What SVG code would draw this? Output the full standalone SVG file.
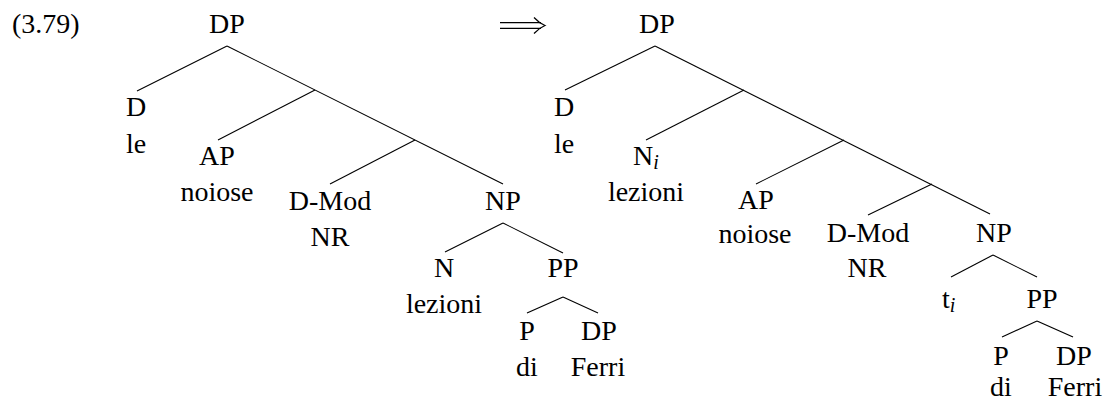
<svg xmlns="http://www.w3.org/2000/svg" width="1104" height="400" viewBox="0 0 1104 400">
<rect width="1104" height="400" fill="#fff"/>
<text x="12" y="33" style="font-family:'Liberation Serif';font-size:28px">(3.79)</text>
<g id="arrow" fill="none" stroke="#000" stroke-width="1.2">
<line x1="500" y1="22.7" x2="541" y2="22.7"/>
<line x1="500" y1="28.3" x2="541" y2="28.3"/>
<path d="M534,17.5 Q539,23 545,25.5 Q539,28 534,33.5"/>
</g>
<g id="connectors" stroke="#000" stroke-width="1.1">
<line x1="227" y1="46" x2="137" y2="91"/>
<line x1="227" y1="46" x2="503" y2="184"/>
<line x1="315" y1="90" x2="218" y2="140"/>
<line x1="415" y1="140" x2="330" y2="184"/>
<line x1="503" y1="223" x2="445" y2="252"/>
<line x1="503" y1="223" x2="563" y2="253"/>
<line x1="563" y1="297" x2="527" y2="313"/>
<line x1="563" y1="297" x2="598" y2="313"/>
<line x1="655" y1="46" x2="565" y2="90"/>
<line x1="655" y1="46" x2="990" y2="214"/>
<line x1="744" y1="90" x2="646" y2="140"/>
<line x1="844" y1="140" x2="756" y2="184"/>
<line x1="932" y1="184" x2="868" y2="215"/>
<line x1="993" y1="255" x2="951" y2="277"/>
<line x1="993" y1="255" x2="1037" y2="277"/>
<line x1="1037" y1="321" x2="1002" y2="337"/>
<line x1="1037" y1="321" x2="1073" y2="337"/>
</g>
<g id="L-DP"><text x="227" y="33" style="font-family:'Liberation Serif';font-size:28px;text-anchor:middle">DP</text></g>
<g id="L-D"><text x="136" y="116" style="font-family:'Liberation Serif';font-size:28px;text-anchor:middle">D</text><text x="136" y="153" style="font-family:'Liberation Serif';font-size:28px;text-anchor:middle">le</text></g>
<g id="L-AP"><text x="217" y="165" style="font-family:'Liberation Serif';font-size:28px;text-anchor:middle">AP</text><text x="217" y="201" style="font-family:'Liberation Serif';font-size:28px;text-anchor:middle">noiose</text></g>
<g id="L-DMod"><text x="330" y="210" style="font-family:'Liberation Serif';font-size:28px;text-anchor:middle">D-Mod</text><text x="330" y="246" style="font-family:'Liberation Serif';font-size:28px;text-anchor:middle">NR</text></g>
<g id="L-NP"><text x="503" y="210" style="font-family:'Liberation Serif';font-size:28px;text-anchor:middle">NP</text></g>
<g id="L-N"><text x="444" y="277" style="font-family:'Liberation Serif';font-size:28px;text-anchor:middle">N</text><text x="444" y="313" style="font-family:'Liberation Serif';font-size:28px;text-anchor:middle">lezioni</text></g>
<g id="L-PP"><text x="563" y="277" style="font-family:'Liberation Serif';font-size:28px;text-anchor:middle">PP</text></g>
<g id="L-P"><text x="527" y="340" style="font-family:'Liberation Serif';font-size:28px;text-anchor:middle">P</text><text x="527" y="376" style="font-family:'Liberation Serif';font-size:28px;text-anchor:middle">di</text></g>
<g id="L-DP2"><text x="599" y="340" style="font-family:'Liberation Serif';font-size:28px;text-anchor:middle">DP</text><text x="598" y="376" style="font-family:'Liberation Serif';font-size:28px;text-anchor:middle">Ferri</text></g>
<g id="R-DP"><text x="657" y="33" style="font-family:'Liberation Serif';font-size:28px;text-anchor:middle">DP</text></g>
<g id="R-D"><text x="564" y="116" style="font-family:'Liberation Serif';font-size:28px;text-anchor:middle">D</text><text x="564" y="153" style="font-family:'Liberation Serif';font-size:28px;text-anchor:middle">le</text></g>
<g id="R-Ni"><text x="633" y="165" style="font-family:'Liberation Serif';font-size:28px">N<tspan dy="4" style="font-style:italic;font-size:20px">i</tspan></text><text x="646" y="201" style="font-family:'Liberation Serif';font-size:28px;text-anchor:middle">lezioni</text></g>
<g id="R-AP"><text x="756" y="209" style="font-family:'Liberation Serif';font-size:28px;text-anchor:middle">AP</text><text x="755" y="243" style="font-family:'Liberation Serif';font-size:28px;text-anchor:middle">noiose</text></g>
<g id="R-DMod"><text x="868" y="242" style="font-family:'Liberation Serif';font-size:28px;text-anchor:middle">D-Mod</text><text x="867" y="277" style="font-family:'Liberation Serif';font-size:28px;text-anchor:middle">NR</text></g>
<g id="R-NP"><text x="994" y="242" style="font-family:'Liberation Serif';font-size:28px;text-anchor:middle">NP</text></g>
<g id="R-ti"><text x="942" y="308" style="font-family:'Liberation Serif';font-size:28px">t<tspan dy="4" style="font-style:italic;font-size:20px">i</tspan></text></g>
<g id="R-PP"><text x="1042" y="308" style="font-family:'Liberation Serif';font-size:28px;text-anchor:middle">PP</text></g>
<g id="R-P"><text x="1001" y="365" style="font-family:'Liberation Serif';font-size:28px;text-anchor:middle">P</text><text x="1001" y="396" style="font-family:'Liberation Serif';font-size:28px;text-anchor:middle">di</text></g>
<g id="R-DP2"><text x="1074" y="365" style="font-family:'Liberation Serif';font-size:28px;text-anchor:middle">DP</text><text x="1075" y="396" style="font-family:'Liberation Serif';font-size:28px;text-anchor:middle">Ferri</text></g>
</svg>
